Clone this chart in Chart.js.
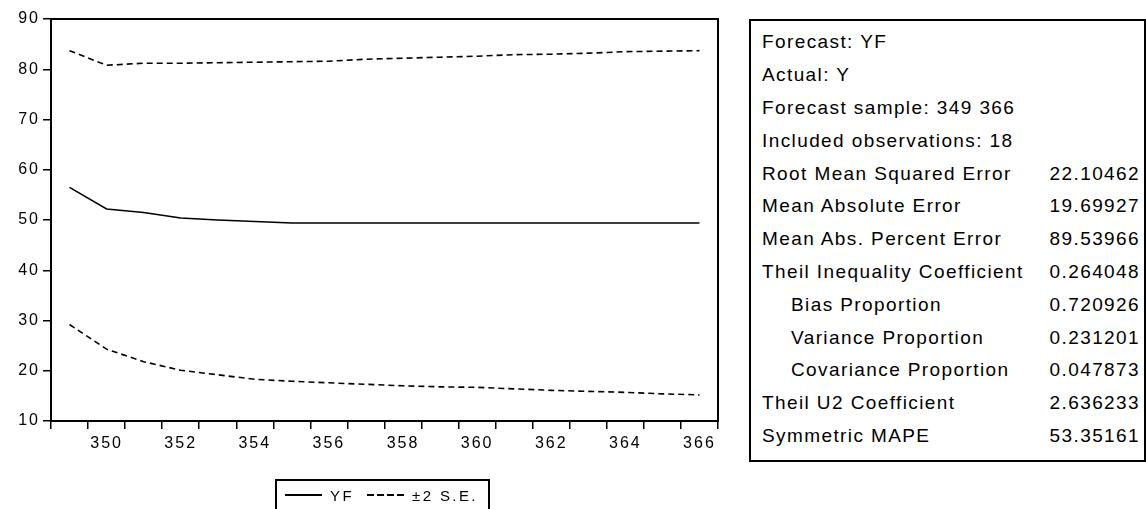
<!DOCTYPE html>
<html>
<head>
<meta charset="utf-8">
<script src="https://cdn.jsdelivr.net/npm/chart.js@4/dist/chart.umd.min.js"></script>
<style>
    html, body { margin: 0; padding: 0; background: #fff; width: 1146px; height: 509px; overflow: hidden; }
    #chart { position: absolute; left: 0; top: 0; }
    #legend {
        position: absolute; left: 275px; top: 479px; width: 215px; height: 40px;
        border: 2px solid #000; box-sizing: border-box;
        font: 15px "Liberation Sans", Arial, sans-serif; letter-spacing: 2.4px; color: #000;
    }
    #legend .item { position: absolute; top: 4px; display: flex; align-items: center; height: 20px; }
    #legend .swatch { display: inline-block; width: 37px; height: 1.5px; margin-right: 8px; }
    #stats {
        position: absolute; left: 749px; top: 19px; width: 397px; height: 443px;
        border: 2px solid #000; box-sizing: border-box; padding-top: 5px;
        font: 19px "Liberation Sans", Arial, sans-serif; letter-spacing: 1.4px; color: #000;
    }
    #stats table { border-collapse: collapse; width: 100%; }
    #stats td { height: 32.8px; padding: 0; white-space: nowrap; }
    #stats td.name { padding-left: 11px; }
    #stats td.name.sub { padding-left: 40px; }
    #stats td.val { text-align: right; padding-right: 4px; }
</style>
</head>
<body>
<canvas id="chart" width="740" height="509"></canvas>
<div id="legend"></div>
<div id="stats"><table id="stats-table"></table></div>
<script>
const periods = ["349", "350", "351", "352", "353", "354", "355", "356", "357",
                 "358", "359", "360", "361", "362", "363", "364", "365", "366"];
const yf =      [56.5, 52.2, 51.5, 50.4, 50.0, 49.7, 49.4, 49.4, 49.4,
                 49.4, 49.4, 49.4, 49.4, 49.4, 49.4, 49.4, 49.4, 49.4];
const upperSE = [83.7, 80.8, 81.2, 81.2, 81.3, 81.4, 81.5, 81.6, 82.0,
                 82.2, 82.4, 82.6, 82.9, 83.0, 83.2, 83.5, 83.6, 83.7];
const lowerSE = [29.2, 24.3, 21.8, 20.1, 19.2, 18.3, 17.9, 17.6, 17.3,
                 17.0, 16.8, 16.7, 16.4, 16.1, 15.9, 15.7, 15.4, 15.2];
const yMin = 10, yMax = 90, yStep = 10;

const statLabels = ["Forecast: YF", "Actual: Y", "Forecast sample: 349 366", "Included observations: 18",
    "Root Mean Squared Error", "Mean Absolute Error", "Mean Abs. Percent Error",
    "Theil Inequality Coefficient", "Bias Proportion", "Variance Proportion",
    "Covariance Proportion", "Theil U2 Coefficient", "Symmetric MAPE"];
const statValues = ["", "", "", "", "22.10462", "19.69927", "89.53966",
    "0.264048", "0.720926", "0.231201", "0.047873", "2.636233", "53.35161"];
const statIndent = [0, 0, 0, 0, 0, 0, 0, 0, 1, 1, 1, 0, 0];

// eviews-ish look: wide letter spacing on the canvas text
const spacing = {
    id: "spacing",
    beforeUpdate(chart) { chart.ctx.letterSpacing = "2px"; },
    beforeDraw(chart) { chart.ctx.letterSpacing = "2px"; }
};
// closed frame round the plot
const frame = {
    id: "frame",
    afterDatasetsDraw(chart) {
        const a = chart.chartArea, ctx = chart.ctx;
        ctx.save();
        ctx.strokeStyle = "#000";
        ctx.lineWidth = 2;
        ctx.strokeRect(a.left, a.top, a.right - a.left, a.bottom - a.top);
        ctx.restore();
    }
};

const font = { family: "'Liberation Sans', Arial, sans-serif", size: 16 };
const chart = new Chart(document.getElementById("chart"), {
    type: "line",
    data: {
        labels: periods,
        datasets: [
            { label: "YF", data: yf, borderColor: "#000", borderWidth: 1.6 },
            { label: "±2 S.E.", data: upperSE, borderColor: "#000", borderWidth: 1.6, borderDash: [6, 4] },
            { label: "", data: lowerSE, borderColor: "#000", borderWidth: 1.6, borderDash: [6, 4] }
        ]
    },
    options: {
        responsive: false,
        animation: false,
        events: [],
        layout: { padding: { left: 0, top: 19, right: 22, bottom: 48 } },
        elements: { point: { radius: 0 }, line: { tension: 0 } },
        plugins: { legend: { display: false }, tooltip: { enabled: false } },
        scales: {
            x: {
                offset: true,
                grid: { offset: true, drawOnChartArea: false, drawTicks: true, tickLength: 8, color: "#000", lineWidth: 1.5 },
                border: { display: true, color: "#000", width: 2 },
                ticks: {
                    autoSkip: false, maxRotation: 0, padding: 5, color: "#000", font: font,
                    callback: (v, i) => (i % 2 === 1 ? periods[i] : "")
                },
                afterFit(scale) { scale.height = 40; }
            },
            y: {
                min: yMin, max: yMax,
                grid: { drawOnChartArea: false, drawTicks: true, tickLength: 8, color: "#000", lineWidth: 1.5 },
                border: { display: true, color: "#000", width: 2 },
                ticks: { stepSize: yStep, padding: 3, color: "#000", font: font },
                afterFit(scale) { scale.width = 51; }
            }
        }
    },
    plugins: [spacing, frame]
});

// legend below the plot
const legend = document.getElementById("legend");
const legendItems = [
    { text: chart.data.datasets[0].label, bg: "#000", left: 8 },
    { text: chart.data.datasets[1].label, bg: "repeating-linear-gradient(to right, #000 0 7px, transparent 7px 10px)", left: 90 }
];
legendItems.forEach(item => {
    const el = document.createElement("div");
    el.className = "item";
    el.style.left = item.left + "px";
    const sw = document.createElement("span");
    sw.className = "swatch";
    sw.style.background = item.bg;
    el.appendChild(sw);
    el.appendChild(document.createTextNode(item.text));
    legend.appendChild(el);
});

// forecast evaluation box
const table = document.getElementById("stats-table");
statLabels.forEach((name, i) => {
    const tr = document.createElement("tr");
    const a = document.createElement("td");
    a.className = "name" + (statIndent[i] ? " sub" : "");
    a.textContent = name;
    const b = document.createElement("td");
    b.className = "val";
    b.textContent = statValues[i];
    tr.appendChild(a);
    tr.appendChild(b);
    table.appendChild(tr);
});
</script>
</body>
</html>
